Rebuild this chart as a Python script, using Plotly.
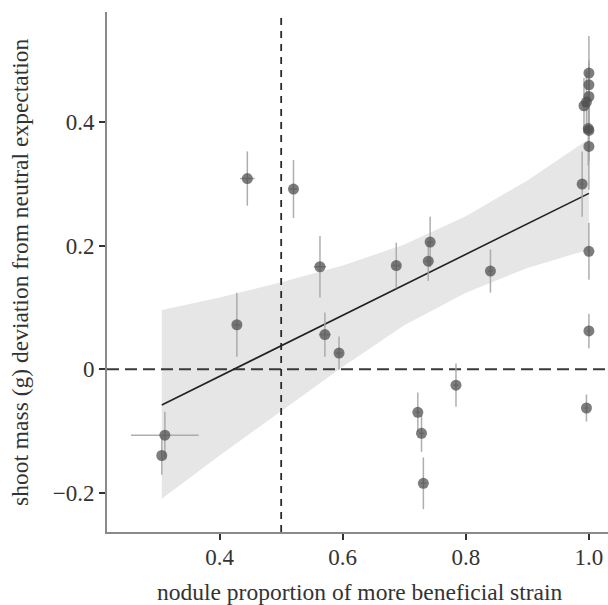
import plotly.graph_objects as go

# data points: nodule proportion (x), shoot mass deviation (y), errors
prop = [0.311, 0.306, 0.428, 0.445, 0.520, 0.563, 0.571, 0.594, 0.687, 0.742, 0.739,
        0.840, 0.784, 0.722, 0.728, 0.731,
        0.989, 1.000, 1.000, 0.996, 1.000, 1.000, 1.000, 0.996, 0.992, 0.999, 1.000, 1.000]
dev = [-0.107, -0.140, 0.072, 0.309, 0.292, 0.166, 0.056, 0.026, 0.168, 0.206, 0.175,
       0.159, -0.026, -0.070, -0.104, -0.185,
       0.300, 0.191, 0.062, -0.063, 0.480, 0.461, 0.442, 0.433, 0.427, 0.390, 0.387, 0.361]
dev_err = [0.038, 0.031, 0.052, 0.044, 0.047, 0.050, 0.036, 0.027, 0.037, 0.041, 0.032,
           0.035, 0.035, 0.032, 0.030, 0.042,
           0.053, 0.046, 0.028, 0.022, 0.060, 0.040, 0.055, 0.050, 0.045, 0.060, 0.050, 0.070]
prop_err = [0.055, 0.0, 0.006, 0.012, 0.006, 0.010, 0.010, 0.005, 0.006, 0.005, 0.005,
            0.004, 0.004, 0.004, 0.004, 0.004,
            0.003, 0.002, 0.002, 0.003, 0.002, 0.002, 0.002, 0.002, 0.003, 0.002, 0.002, 0.002]

# regression line and confidence band
fit_x = [0.306, 1.0]
fit_y = [-0.058, 0.285]
band_x = [0.306, 0.4, 0.5, 0.6, 0.7, 0.8, 0.9, 1.0]
band_upper = [0.096, 0.116, 0.141, 0.168, 0.202, 0.248, 0.306, 0.373]
band_lower = [-0.210, -0.140, -0.068, 0.004, 0.071, 0.124, 0.164, 0.194]

# reference lines
neutral_y = 0.0
half_x = 0.5

x_ticks = [0.4, 0.6, 0.8, 1.0]
x_ticklabels = ["0.4", "0.6", "0.8", "1.0"]
y_ticks = [-0.2, 0, 0.2, 0.4]
y_ticklabels = ["\u22120.2", "0", "0.2", "0.4"]

x_title = "nodule proportion of more beneficial strain"
y_title = "shoot mass (g) deviation from neutral expectation"

x_range = [0.217, 1.031]
y_range = [-0.264, 0.579]

FONT = "Liberation Serif, Times New Roman, serif"
TXT = "#333333"

fig = go.Figure()

fig.add_trace(go.Scatter(
    x=band_x + band_x[::-1], y=band_upper + band_lower[::-1],
    fill="toself", fillcolor="rgb(230,230,230)", line=dict(width=0),
    mode="lines", hoverinfo="skip", showlegend=False))

fig.add_trace(go.Scatter(
    x=[x_range[0], x_range[1]], y=[neutral_y, neutral_y], mode="lines",
    line=dict(color="#3a3a3a", width=2, dash="12px,6px"), showlegend=False))

fig.add_trace(go.Scatter(
    x=[half_x, half_x], y=[y_range[0], y_range[1]], mode="lines",
    line=dict(color="#2a2a2a", width=1.8, dash="7px,6px"), showlegend=False))

fig.add_trace(go.Scatter(
    x=fit_x, y=fit_y, mode="lines",
    line=dict(color="#222222", width=1.6), showlegend=False))

fig.add_trace(go.Scatter(
    x=prop, y=dev, mode="markers",
    marker=dict(size=11, color="rgba(75,75,75,0.72)", line=dict(width=0)),
    error_y=dict(type="data", array=dev_err, color="rgba(165,165,165,0.9)", thickness=1.5, width=0),
    error_x=dict(type="data", array=prop_err, color="rgba(165,165,165,0.9)", thickness=1.5, width=0),
    showlegend=False))

fig.update_layout(
    width=608, height=605,
    margin=dict(l=107, r=0, t=12, b=73),
    paper_bgcolor="white", plot_bgcolor="white",
    font=dict(family=FONT, size=23, color=TXT),
    annotations=[
        dict(text=x_title, xref="paper", yref="paper", x=0.5, y=0,
             xanchor="center", yanchor="middle", xshift=2, yshift=-60,
             showarrow=False, font=dict(size=23.5, family=FONT, color=TXT)),
        dict(text=y_title, xref="paper", yref="paper", x=0, y=0.5,
             xanchor="center", yanchor="middle", xshift=-87, textangle=-90,
             showarrow=False, font=dict(size=23.5, family=FONT, color=TXT)),
    ],
)
fig.update_xaxes(
    range=x_range, tickvals=x_ticks, ticktext=x_ticklabels, automargin=False,
    showgrid=False, zeroline=False, showline=True, linecolor="#8a8a8a", linewidth=2,
    ticks="outside", ticklen=6, tickwidth=2, tickcolor="#333333",
    ticklabelstandoff=-3, tickfont=dict(size=23))
fig.update_yaxes(
    range=y_range, tickvals=y_ticks, ticktext=y_ticklabels, automargin=False,
    showgrid=False, zeroline=False, showline=True, linecolor="#8a8a8a", linewidth=2,
    ticks="outside", ticklen=6, tickwidth=2, tickcolor="#333333",
    tickfont=dict(size=23))

# remove the default page margin so the 608x605 figure fills the window exactly
fig.write_html("out.html", config={"displayModeBar": False},
               post_script="document.body.style.margin='0';document.body.style.overflow='hidden';")
